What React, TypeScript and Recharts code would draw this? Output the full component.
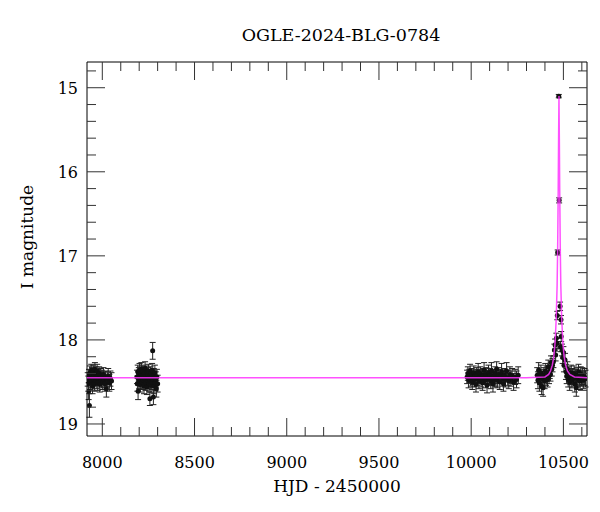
import React from "react";
import { ScatterChart, Scatter, XAxis, YAxis, ErrorBar } from "recharts";

// [HJD - 2450000, I mag, error]
const season2017: [number, number, number][] = [
  [7921, 18.47, 0.08], [7924, 18.52, 0.09], [7926, 18.61, 0.1], [7928, 18.43, 0.08],
  [7930, 18.78, 0.14], [7933, 18.39, 0.08], [7935, 18.5, 0.09], [7937, 18.44, 0.08],
  [7940, 18.36, 0.07], [7942, 18.48, 0.09], [7944, 18.41, 0.08], [7947, 18.55, 0.09],
  [7949, 18.45, 0.08], [7951, 18.38, 0.08], [7953, 18.47, 0.08], [7956, 18.42, 0.08],
  [7958, 18.52, 0.09], [7960, 18.35, 0.08], [7963, 18.46, 0.08], [7965, 18.4, 0.08],
  [7967, 18.49, 0.09], [7970, 18.44, 0.08], [7972, 18.37, 0.08], [7975, 18.51, 0.09],
  [7977, 18.43, 0.08], [7980, 18.46, 0.08], [7983, 18.4, 0.08], [7986, 18.53, 0.09],
  [7989, 18.45, 0.08], [7992, 18.42, 0.08], [7995, 18.48, 0.09], [7998, 18.44, 0.08],
  [8002, 18.5, 0.09], [8006, 18.41, 0.08], [8010, 18.47, 0.09], [8014, 18.52, 0.09],
  [8018, 18.45, 0.08], [8022, 18.58, 0.1], [8027, 18.47, 0.09], [8032, 18.43, 0.09],
  [8038, 18.51, 0.1], [8044, 18.46, 0.09], [8050, 18.49, 0.1],
];

const season2018: [number, number, number][] = [
  [8188, 18.44, 0.08], [8190, 18.52, 0.09], [8192, 18.38, 0.08], [8194, 18.61, 0.1],
  [8196, 18.46, 0.08], [8198, 18.41, 0.08], [8200, 18.49, 0.09], [8202, 18.36, 0.08],
  [8204, 18.44, 0.08], [8206, 18.53, 0.09], [8208, 18.4, 0.08], [8210, 18.47, 0.08],
  [8212, 18.35, 0.08], [8214, 18.45, 0.08], [8216, 18.5, 0.09], [8218, 18.42, 0.08],
  [8220, 18.38, 0.08], [8222, 18.48, 0.09], [8224, 18.44, 0.08], [8226, 18.55, 0.09],
  [8228, 18.4, 0.08], [8230, 18.46, 0.08], [8232, 18.34, 0.08], [8234, 18.51, 0.09],
  [8236, 18.43, 0.08], [8238, 18.47, 0.08], [8240, 18.39, 0.08], [8242, 18.56, 0.09],
  [8244, 18.45, 0.08], [8246, 18.41, 0.08], [8248, 18.49, 0.09], [8250, 18.37, 0.08],
  [8252, 18.46, 0.08], [8254, 18.52, 0.09], [8256, 18.43, 0.08], [8258, 18.7, 0.08],
  [8260, 18.48, 0.09], [8262, 18.4, 0.08], [8264, 18.54, 0.09], [8266, 18.44, 0.08],
  [8268, 18.5, 0.09], [8270, 18.36, 0.08], [8273, 18.13, 0.1], [8275, 18.47, 0.09],
  [8277, 18.68, 0.09], [8279, 18.42, 0.08], [8281, 18.55, 0.09], [8283, 18.45, 0.08],
  [8285, 18.39, 0.09], [8287, 18.51, 0.09], [8290, 18.47, 0.09], [8293, 18.58, 0.1],
  [8296, 18.44, 0.09], [8300, 18.52, 0.1],
];

const season2023: [number, number, number][] = [
  [9978, 18.44, 0.08], [9982, 18.4, 0.08], [9986, 18.48, 0.09], [9990, 18.43, 0.08],
  [9994, 18.37, 0.08], [9998, 18.46, 0.09], [10002, 18.42, 0.08], [10006, 18.5, 0.09],
  [10010, 18.45, 0.08], [10014, 18.39, 0.08], [10018, 18.47, 0.09], [10022, 18.43, 0.08],
  [10026, 18.53, 0.09], [10030, 18.41, 0.08], [10034, 18.46, 0.08], [10038, 18.38, 0.1],
  [10042, 18.49, 0.09], [10046, 18.44, 0.08], [10050, 18.4, 0.08], [10054, 18.47, 0.09],
  [10058, 18.43, 0.08], [10062, 18.51, 0.09], [10066, 18.42, 0.08], [10070, 18.36, 0.09],
  [10074, 18.45, 0.08], [10078, 18.48, 0.09], [10082, 18.41, 0.08], [10086, 18.54, 0.09],
  [10090, 18.44, 0.08], [10094, 18.39, 0.09], [10098, 18.46, 0.08], [10102, 18.42, 0.08],
  [10106, 18.49, 0.09], [10110, 18.37, 0.1], [10114, 18.45, 0.08], [10118, 18.52, 0.1],
  [10122, 18.43, 0.08], [10126, 18.47, 0.09], [10130, 18.4, 0.08], [10134, 18.46, 0.09],
  [10138, 18.35, 0.09], [10142, 18.48, 0.09], [10146, 18.44, 0.08], [10150, 18.41, 0.08],
  [10155, 18.5, 0.09], [10160, 18.43, 0.08], [10165, 18.38, 0.1], [10170, 18.46, 0.09],
  [10175, 18.52, 0.09], [10180, 18.42, 0.08], [10186, 18.47, 0.09], [10192, 18.37, 0.1],
  [10198, 18.45, 0.09], [10204, 18.49, 0.09], [10210, 18.41, 0.09], [10216, 18.46, 0.09],
  [10222, 18.43, 0.09], [10230, 18.5, 0.1], [10238, 18.44, 0.09], [10246, 18.47, 0.1],
  [10255, 18.42, 0.1],
];

const season2024: [number, number, number][] = [
  [10358, 18.42, 0.09], [10362, 18.48, 0.1], [10366, 18.36, 0.09], [10370, 18.51, 0.1],
  [10374, 18.44, 0.09], [10378, 18.39, 0.09], [10382, 18.55, 0.1], [10386, 18.46, 0.09],
  [10390, 18.57, 0.1], [10394, 18.42, 0.09], [10398, 18.49, 0.09], [10402, 18.37, 0.09],
  [10406, 18.45, 0.09], [10410, 18.4, 0.09], [10414, 18.47, 0.09], [10418, 18.32, 0.08],
  [10422, 18.43, 0.09], [10426, 18.38, 0.08], [10430, 18.41, 0.08], [10433, 18.27, 0.08],
  [10437, 18.35, 0.08], [10441, 18.3, 0.08], [10446, 18.26, 0.07], [10451, 18.12, 0.07],
  [10455, 18.06, 0.07], [10458, 18.18, 0.07], [10462, 17.98, 0.06], [10466, 18.04, 0.06],
  [10467, 17.71, 0.05], [10469, 16.96, 0.03], [10475, 15.1, 0.02], [10477, 16.34, 0.03],
  [10482, 17.6, 0.05], [10484, 18.08, 0.06], [10487, 17.76, 0.05], [10488, 17.96, 0.06],
  [10492, 18.12, 0.07], [10496, 18.21, 0.07], [10500, 18.15, 0.07], [10503, 18.3, 0.08],
  [10509, 18.24, 0.08], [10514, 18.38, 0.09], [10518, 18.43, 0.09], [10522, 18.35, 0.09],
  [10526, 18.47, 0.09], [10530, 18.41, 0.09], [10534, 18.5, 0.1], [10538, 18.44, 0.09],
  [10542, 18.39, 0.09], [10546, 18.48, 0.09], [10550, 18.43, 0.09], [10554, 18.46, 0.09],
  [10558, 18.4, 0.09], [10562, 18.52, 0.1], [10566, 18.44, 0.09], [10570, 18.57, 0.1],
  [10574, 18.42, 0.09], [10578, 18.47, 0.09], [10582, 18.38, 0.09], [10586, 18.45, 0.09],
  [10590, 18.49, 0.1], [10594, 18.41, 0.09], [10598, 18.46, 0.09], [10603, 18.43, 0.1],
  [10608, 18.48, 0.1], [10614, 18.44, 0.1], [10620, 18.46, 0.1],
];

// microlensing model curve
const modelHjd = [
  7917, 10300, 10400, 10420, 10430, 10440, 10448, 10455, 10461, 10466, 10469, 10472, 10474,
  10476, 10478, 10480, 10483, 10486, 10491, 10497, 10504, 10512, 10522, 10535, 10560, 10628,
];
const modelMag = [
  18.45, 18.45, 18.44, 18.41, 18.37, 18.3, 18.2, 18.03, 17.75, 17.35, 16.9, 16.2, 15.6,
  15.1, 15.6, 16.2, 16.9, 17.35, 17.75, 18.03, 18.2, 18.3, 18.37, 18.41, 18.44, 18.45,
];

const xTicks = [
  8000, 8100, 8200, 8300, 8400, 8500, 8600, 8700, 8800, 8900, 9000, 9100, 9200, 9300,
  9400, 9500, 9600, 9700, 9800, 9900, 10000, 10100, 10200, 10300, 10400, 10500, 10600,
];
const yTicks = [
  14.8, 15, 15.2, 15.4, 15.6, 15.8, 16, 16.2, 16.4, 16.6, 16.8, 17, 17.2, 17.4, 17.6,
  17.8, 18, 18.2, 18.4, 18.6, 18.8, 19,
];

const xDomain = [7917, 10628];
const yDomain = [14.694, 19.143];

const FONT = "'DejaVu Serif', serif";
const TICK = "#333";
const MAJOR = 18;
const MINOR = 9;

const points = [...season2017, ...season2018, ...season2023, ...season2024].map(
  ([hjd, mag, err]) => ({ hjd, mag, err })
);
const model = modelHjd.map((hjd, i) => ({ hjd, mag: modelMag[i] }));

const isMajorX = (v: number) => v % 500 === 0;
const isMajorY = (v: number) => Math.abs(v - Math.round(v)) < 1e-6;

const BottomTick = (p: any) => {
  const v = p.payload.value;
  const len = isMajorX(v) ? MAJOR : MINOR;
  return (
    <g>
      <line x1={p.x} x2={p.x} y1={p.y} y2={p.y - len} stroke={TICK} />
      {isMajorX(v) && (
        <text x={p.x} y={p.y + 32} textAnchor="middle" fontFamily={FONT} fontSize={16} fill="#000">
          {v}
        </text>
      )}
    </g>
  );
};

const TopTick = (p: any) => {
  const len = isMajorX(p.payload.value) ? MAJOR : MINOR;
  return <line x1={p.x} x2={p.x} y1={p.y} y2={p.y + len} stroke={TICK} />;
};

const LeftTick = (p: any) => {
  const v = p.payload.value;
  const len = isMajorY(v) ? MAJOR : MINOR;
  return (
    <g>
      <line x1={p.x} x2={p.x + len} y1={p.y} y2={p.y} stroke={TICK} />
      {isMajorY(v) && (
        <text x={p.x - 9} y={p.y + 6} textAnchor="end" fontFamily={FONT} fontSize={16} fill="#000">
          {Math.round(v)}
        </text>
      )}
    </g>
  );
};

const RightTick = (p: any) => {
  const len = isMajorY(p.payload.value) ? MAJOR : MINOR;
  return <line x1={p.x} x2={p.x - len} y1={p.y} y2={p.y} stroke={TICK} />;
};

const Dot = (p: any) => <circle cx={p.cx} cy={p.cy} r={2.5} fill="#111" />;

export default function App() {
  return (
    <div style={{ position: "absolute", left: 0, top: 0, width: 600, height: 512, background: "#fff" }}>
      <ScatterChart width={600} height={512} margin={{ top: 61, right: 12, bottom: 0, left: 0 }}>
        <XAxis
          xAxisId="bottom"
          orientation="bottom"
          type="number"
          dataKey="hjd"
          domain={xDomain}
          allowDataOverflow
          ticks={xTicks}
          interval={0}
          height={76}
          tickLine={false}
          tickSize={0}
          tickMargin={0}
          axisLine={{ stroke: "#000" }}
          tick={BottomTick}
        />
        <XAxis
          xAxisId="top"
          orientation="top"
          type="number"
          dataKey="hjd"
          domain={xDomain}
          allowDataOverflow
          ticks={xTicks}
          interval={0}
          height={1}
          tickLine={false}
          tickSize={0}
          tickMargin={0}
          axisLine={{ stroke: "#000" }}
          tick={TopTick}
        />
        <YAxis
          yAxisId="left"
          orientation="left"
          type="number"
          dataKey="mag"
          domain={yDomain}
          allowDataOverflow
          reversed
          ticks={yTicks}
          interval={0}
          width={87}
          tickLine={false}
          tickSize={0}
          tickMargin={0}
          axisLine={{ stroke: "#000" }}
          tick={LeftTick}
        />
        <YAxis
          yAxisId="right"
          orientation="right"
          type="number"
          dataKey="mag"
          domain={yDomain}
          allowDataOverflow
          reversed
          ticks={yTicks}
          interval={0}
          width={1}
          tickLine={false}
          tickSize={0}
          tickMargin={0}
          axisLine={{ stroke: "#000" }}
          tick={RightTick}
        />
        <Scatter
          xAxisId="bottom"
          yAxisId="left"
          data={points}
          dataKey="mag"
          shape={Dot}
          isAnimationActive={false}
        >
          <ErrorBar dataKey="err" direction="y" width={3} stroke="#222" strokeWidth={1} isAnimationActive={false} />
        </Scatter>
        <Scatter
          xAxisId="top"
          yAxisId="right"
          data={model}
          dataKey="mag"
          fill="#ff33ff"
          line={{ stroke: "#ff33ff", strokeWidth: 1.5, strokeOpacity: 0.85 }}
          lineType="joint"
          shape={() => <g />}
          isAnimationActive={false}
        />
      </ScatterChart>
      <svg width={600} height={512} style={{ position: "absolute", left: 0, top: 0, pointerEvents: "none" }}>
        <text x={341} y={41} textAnchor="middle" fontFamily={FONT} fontSize={17.5} fill="#000">
          OGLE-2024-BLG-0784
        </text>
        <text x={337} y={492} textAnchor="middle" fontFamily={FONT} fontSize={17} fill="#000">
          HJD - 2450000
        </text>
        <text
          x={27}
          y={237}
          transform="rotate(-90 27 237)"
          textAnchor="middle"
          dominantBaseline="central"
          fontFamily={FONT}
          fontSize={17}
          fill="#000"
        >
          I magnitude
        </text>
      </svg>
    </div>
  );
}
